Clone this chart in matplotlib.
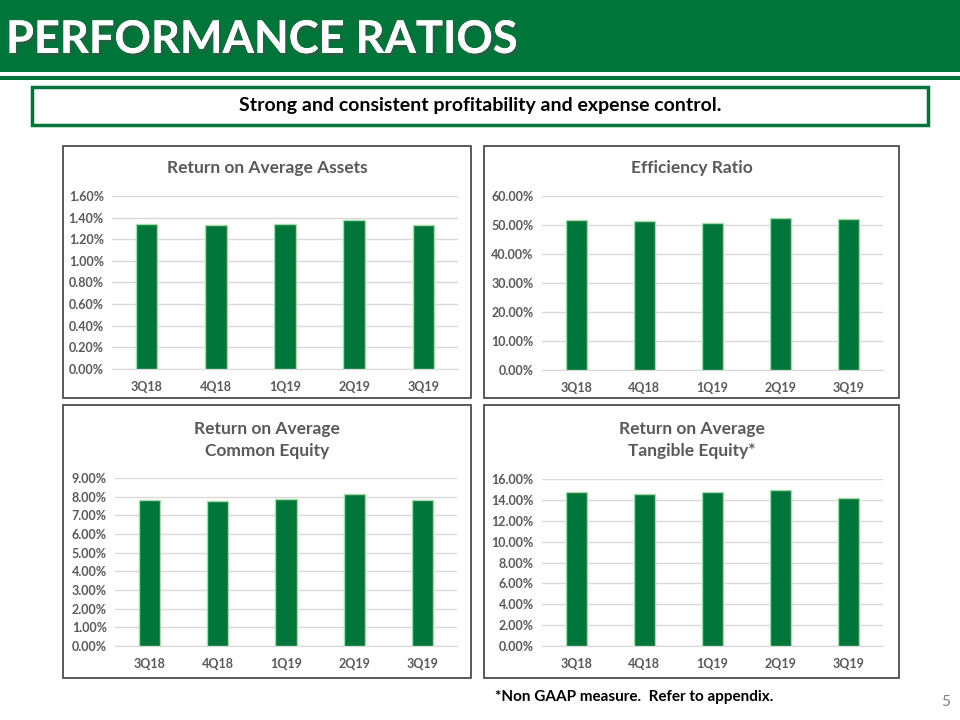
import matplotlib
matplotlib.use("Agg")
import matplotlib.pyplot as plt
from matplotlib.patches import Rectangle
from matplotlib.ticker import FuncFormatter
import matplotlib.patheffects as pe

quarters = ["3Q18", "4Q18", "1Q19", "2Q19", "3Q19"]
roaa = [1.34, 1.33, 1.34, 1.38, 1.33]
efficiency = [51.6, 51.4, 50.8, 52.4, 52.0]
roace = [7.84, 7.79, 7.90, 8.14, 7.80]
roate = [14.74, 14.60, 14.74, 14.96, 14.22]

GREEN = "#00753A"
EDGE = "#A8DCA8"
GRAY = "#595959"

plt.rcParams['font.family'] = ['Lato', 'DejaVu Sans']

W, H = 960, 720
fig = plt.figure(figsize=(9.6, 7.2), dpi=100)


def rect(x, y, w, h):
    # pixel box (top-left origin) -> figure fraction
    return [x / W, 1 - (y + h) / H, w / W, h / H]


def fx(x):
    return x / W


def fy(y):
    return 1 - y / H


def box(x, y, w, h, **kw):
    r = Rectangle((fx(x), fy(y + h)), w / W, h / H, transform=fig.transFigure, zorder=-5, **kw)
    fig.patches.append(r)


# header band
box(0, 0, 960, 72, facecolor=GREEN, edgecolor="none")
box(0, 76, 960, 4, facecolor=GREEN, edgecolor="none")
fig.text(fx(6), fy(40), "PERFORMANCE RATIOS", color="white", fontsize=32.5,
         fontweight="bold", va="center", ha="left",
         path_effects=[pe.withSimplePatchShadow(offset=(2, -2), alpha=0.5), pe.Normal()])

# subtitle box
box(34, 89, 896, 38, facecolor="#BFBFBF", edgecolor="none")
box(32, 87, 896, 38, facecolor="white", edgecolor=GREEN, linewidth=2.5)
fig.text(fx(480), fy(106), "Strong and consistent profitability and expense control.",
         fontsize=14, fontweight="bold", ha="center", va="center", color="black")

panels = [
    # panel box, axes box, title, data, ymax, step
    ((63, 146, 408, 252), (112, 196, 346, 173), "Return on Average Assets", roaa, 1.6, 0.2),
    ((484, 146, 415, 252), (542, 196, 341, 174), "Efficiency Ratio", efficiency, 60, 10),
    ((63, 405, 408, 273), (115, 478, 342, 168), "Return on Average\nCommon Equity", roace, 9, 1),
    ((484, 405, 415, 273), (542, 479, 341, 167), "Return on Average\nTangible Equity*", roate, 16, 2),
]

for pbox, axbox, title, vals, ymax, step in panels:
    bx, by, bw, bh = pbox
    box(bx, by, bw, bh, facecolor="white", edgecolor="#404040", linewidth=1.2)
    ty = by + 22 if "\n" not in title else by + 35
    fig.text(fx(bx + bw / 2), fy(ty), title, fontsize=12.5, fontweight="bold",
             color=GRAY, ha="center", va="center", linespacing=1.45)

    ax = fig.add_axes(rect(*axbox))
    ax.bar(range(len(quarters)), vals, width=0.31, color=GREEN, edgecolor=EDGE,
           linewidth=1, zorder=3)
    ax.set_xlim(-0.5, len(quarters) - 0.5)
    ax.set_ylim(0, ymax)
    n = int(round(ymax / step))
    ax.set_yticks([i * step for i in range(n + 1)])
    ax.yaxis.set_major_formatter(FuncFormatter(lambda v, p: f"{v:.2f}%"))
    ax.set_xticks(range(len(quarters)))
    ax.set_xticklabels(quarters)
    ax.grid(axis="y", color="#D9D9D9", linewidth=1, zorder=0)
    for s in ["top", "right", "left"]:
        ax.spines[s].set_visible(False)
    ax.spines["bottom"].set_color("#D9D9D9")
    ax.tick_params(length=0, labelsize=9, labelcolor=GRAY, pad=6)
    ax.tick_params(axis="x", pad=9)
    for lbl in ax.get_xticklabels() + ax.get_yticklabels():
        lbl.set_fontweight("bold")
    ax.set_facecolor("none")

fig.text(fx(495), fy(697), "*Non GAAP measure.  Refer to appendix.", fontsize=11,
         fontweight="bold", ha="left", va="center", color="black")
fig.text(fx(946), fy(702), "5", fontsize=11, color="#808080", ha="center", va="center")

fig.savefig("out.png", dpi=100)
